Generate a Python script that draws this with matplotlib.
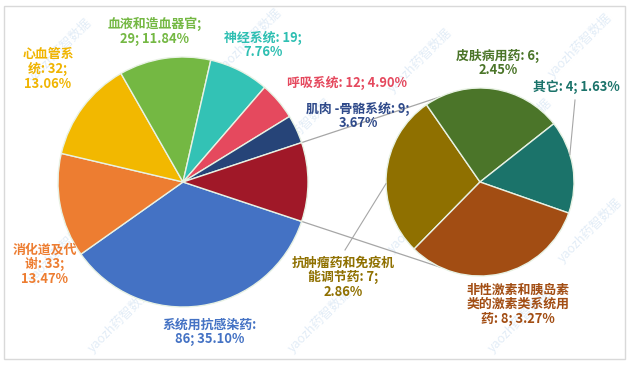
import numpy as np
import matplotlib
matplotlib.use("Agg")
import matplotlib.pyplot as plt
from matplotlib.patches import Rectangle

plt.rcParams['font.family'] = ['Noto Sans CJK SC', 'DejaVu Sans']

# 主饼图 (顺时针)
main_labels = ["系统用抗感染药", "消化道及代谢", "心血管系统", "血液和造血器官",
               "神经系统", "呼吸系统", "肌肉-骨骼系统"]
main_values = [86, 33, 32, 29, 19, 12, 9]
main_colors = ["#4472C4", "#ED7D31", "#F2B800", "#74B843",
               "#33C2B5", "#E5495E", "#264478"]
other_color = "#A01828"

# 次饼图 (顺时针)
sub_labels = ["抗肿瘤药和免疫机能调节药", "皮肤病用药", "其它", "非性激素和胰岛素类的激素类系统用药"]
sub_values = [7, 6, 4, 8]
sub_colors = ["#8F7000", "#4B7529", "#1B736A", "#A24D13"]

total = sum(main_values) + sum(sub_values)
W, H = 633, 368

fig = plt.figure(figsize=(W / 100, H / 100), dpi=100)
ax = fig.add_axes([0, 0, 1, 1])

# 主饼
c1, r1 = (183, H - 182), 125
other_sum = sum(sub_values)
vals1 = main_values + [other_sum]
half = other_sum / total * 360 / 2
ax.pie(vals1, colors=main_colors + [other_color], startangle=-half, counterclock=False,
       center=c1, radius=r1, wedgeprops=dict(edgecolor="#e8f2e4", linewidth=1))

# 次饼
c2, r2 = (480, H - 182), 94
ax.pie(sub_values, colors=sub_colors, startangle=225.5, counterclock=False,
       center=c2, radius=r2, wedgeprops=dict(edgecolor="#e8f2e4", linewidth=1))

# 连接线
for s in (1, -1):
    a1 = np.deg2rad(s * half)
    a2 = np.deg2rad(s * 115)
    ax.plot([c1[0] + r1 * np.cos(a1), c2[0] + r2 * np.cos(a2)],
            [c1[1] + r1 * np.sin(a1), c2[1] + r2 * np.sin(a2)],
            color="#a6a6a6", lw=0.9, zorder=0.5)

# 标签
def pct(v):
    return f"{v / total * 100:.2f}%"

labs = [
    ("系统用抗感染药:\n{v}; {p}", main_values[0], main_colors[0], 210, 332),
    ("消化道及代\n谢: {v};\n{p}", main_values[1], main_colors[1], 45, 264),
    ("心血管系\n统: {v};\n{p}", main_values[2], "#F0B400", 48, 69),
    ("血液和造血器官;\n{v}; {p}", main_values[3], main_colors[3], 155, 31),
    ("神经系统: {v};\n{p}", main_values[4], "#2EBFB2", 263, 45),
    ("呼吸系统: {v}; {p}", main_values[5], main_colors[5], 347, 83),
    ("肌肉 -骨骼系统: {v};\n{p}", main_values[6], "#2F4A8A", 358, 116),
    ("抗肿瘤药和免疫机\n能调节药: {v};\n{p}", sub_values[0], sub_colors[0], 343, 277),
    ("皮肤病用药: {v};\n{p}", sub_values[1], sub_colors[1], 498, 63),
    ("其它: {v}; {p}", sub_values[2], sub_colors[2], 576, 87),
    ("非性激素和胰岛素\n类的激素类系统用\n药: {v}; {p}", sub_values[3], sub_colors[3], 518, 304),
]
for fmt, v, col, x, y in labs:
    ax.text(x, H - y, fmt.format(v=v, p=pct(v)), color=col, fontsize=9.3,
            fontweight="bold", ha="center", va="center", linespacing=1.05)

# 引导线
a = np.deg2rad(17)
ax.plot([575, c2[0] + r2 * np.cos(a)], [H - 100, c2[1] + r2 * np.sin(a)],
        color="#a6a6a6", lw=0.8)
a = np.deg2rad(181)
ax.plot([345, c2[0] + r2 * np.cos(a)], [H - 250, c2[1] + r2 * np.sin(a)],
        color="#a6a6a6", lw=0.8)

# 水印
for wx, wy in [(60, 50), (250, 40), (420, 60), (580, 45), (120, 140), (300, 130),
               (520, 130), (60, 250), (210, 240), (420, 220), (590, 230),
               (120, 320), (320, 320), (520, 320)]:
    ax.text(wx, H - wy, "yaozh药智数据", color="#dbe8f5", fontsize=9, rotation=45,
            ha="center", va="center", zorder=0.1, alpha=0.8)

ax.add_patch(Rectangle((4, H - 359), 621, 353, fill=False, edgecolor="#d9d9d9", lw=1))

ax.set_xlim(0, W)
ax.set_ylim(0, H)
ax.set_aspect("auto")
ax.axis("off")

fig.savefig("out.png", dpi=100)
